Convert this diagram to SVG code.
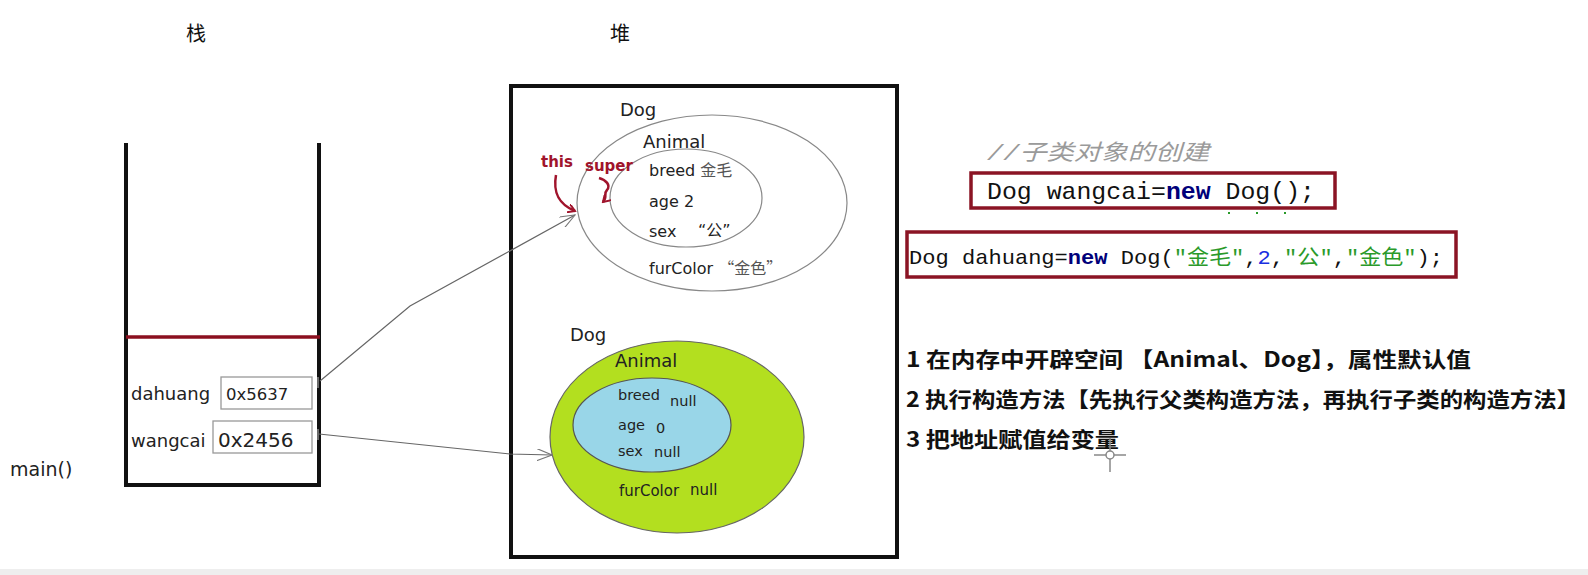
<svg xmlns="http://www.w3.org/2000/svg" width="1588" height="575" viewBox="0 0 1588 575">
<style>
.t{font-family:"DejaVu Sans","Noto Sans CJK SC",sans-serif;fill:#222}
.cjk{font-family:"Noto Sans CJK SC",sans-serif;fill:#111}
.step{font-family:"Noto Sans CJK SC",sans-serif;font-weight:bold;font-size:21px;fill:#111}
.code{font-family:"Liberation Mono","Noto Sans CJK SC",monospace;fill:#111}
.kw{font-weight:bold;fill:#00007a}
.str{fill:#2a9a2a}
.num{fill:#1a2ee0}
.red{font-family:"DejaVu Sans",sans-serif;font-weight:bold;font-size:15px;fill:#a0142c}
.conn{fill:none;stroke:#666;stroke-width:1.2}
.wall{fill:none;stroke:#111;stroke-width:4}
.box{fill:#fff;stroke:#999;stroke-width:1.3}
.hl{fill:none;stroke:#8b1424;stroke-width:3.5}
</style>
<defs>
<marker id="open" viewBox="0 0 16 12" refX="15" refY="6" markerWidth="16" markerHeight="12" markerUnits="userSpaceOnUse" orient="auto">
<path d="M0,0 L15,6 L0,12" fill="none" stroke="#777" stroke-width="1.1"/>
</marker>
<marker id="redhead" viewBox="0 0 10 10" refX="8" refY="5" markerWidth="9" markerHeight="9" markerUnits="userSpaceOnUse" orient="auto">
<path d="M0,0 L8,5 L0,10" fill="none" stroke="#a0142c" stroke-width="2.2"/>
</marker>
</defs>
<rect width="1588" height="575" fill="#fff"/>
<rect x="0" y="569" width="1588" height="6" fill="#eeeeee"/>

<text class="cjk" x="196" y="41" font-size="20" text-anchor="middle">栈</text>
<text class="cjk" x="620" y="41" font-size="20" text-anchor="middle">堆</text>

<g id="stack">
<polyline class="wall" points="126,143 126,485 319,485 319,143"/>
<line x1="126" y1="337" x2="320" y2="337" stroke="#8b0f1f" stroke-width="3.5"/>
<text class="t" x="131" y="400" font-size="18">dahuang</text>
<rect class="box" x="221" y="377" width="91" height="32"/>
<text class="t" x="226" y="400" font-size="16.5" fill="#333">0x5637</text>
<text class="t" x="131" y="447" font-size="18">wangcai</text>
<rect class="box" x="213" y="421" width="99" height="32"/>
<text class="t" x="218" y="447" font-size="20">0x2456</text>
<text class="t" x="10" y="476" font-size="19">main()</text>
</g>

<g id="heap">
<rect x="511" y="86" width="386" height="471" fill="none" stroke="#111" stroke-width="4"/>
</g>

<g id="dog-dahuang">
<text class="t" x="620" y="116" font-size="18">Dog</text>
<ellipse cx="712" cy="203" rx="135" ry="88" fill="none" stroke="#888" stroke-width="1.2"/>
<ellipse cx="686" cy="198" rx="76" ry="49" fill="none" stroke="#888" stroke-width="1.2"/>
<text class="t" x="643" y="148" font-size="18">Animal</text>
<text class="t" x="649" y="176" font-size="16">breed <tspan font-family="Noto Sans CJK SC" fill="#555">金毛</tspan></text>
<text class="t" x="649" y="207" font-size="16">age 2</text>
<text class="t" x="649" y="237" font-size="16">sex</text>
<text class="t" x="698" y="236" font-size="16" fill="#555" font-family="Noto Sans CJK SC">“公”</text>
<text class="t" x="649" y="274" font-size="16">furColor <tspan font-family="Noto Sans CJK SC" fill="#555">“金色”</tspan></text>
<text class="red" x="541" y="167">this</text>
<text class="red" x="585" y="171">super</text>
<path d="M556,175 C553,192 558,204 575,211" fill="none" stroke="#a0142c" stroke-width="2.5" marker-end="url(#redhead)"/>
<path d="M599,178 C606,180 611,185 607,190 C603,194 608,197 603,202" fill="none" stroke="#a0142c" stroke-width="2.5" marker-end="url(#redhead)"/>
</g>

<g id="dog-wangcai">
<text class="t" x="570" y="341" font-size="18">Dog</text>
<ellipse cx="677" cy="437" rx="127" ry="96" fill="#b3df1f" stroke="#666" stroke-width="1.2"/>
<text class="t" x="615" y="367" font-size="18">Animal</text>
<ellipse cx="652" cy="425" rx="79" ry="47" fill="#99d6e8" stroke="#555" stroke-width="1.2"/>
<text class="t" x="618" y="400" font-size="14.5">breed</text>
<text class="t" x="670" y="406" font-size="14.5">null</text>
<text class="t" x="618" y="430" font-size="14.5">age</text>
<text class="t" x="656" y="433" font-size="14.5">0</text>
<text class="t" x="618" y="456" font-size="14.5">sex</text>
<text class="t" x="654" y="457" font-size="14.5">null</text>
<text class="t" x="619" y="496" font-size="15">furColor</text>
<text class="t" x="690" y="495" font-size="15">null</text>
</g>

<g id="connectors">
<path class="conn" d="M320,381 L410,306 L575,215" marker-end="url(#open)"/>
<path class="conn" d="M319,434 L510,454 L552,455" marker-end="url(#open)"/>
<line x1="318" y1="377" x2="318" y2="388" stroke="#888" stroke-width="1.5"/>
<line x1="318" y1="429" x2="318" y2="440" stroke="#888" stroke-width="1.5"/>
</g>

<g id="code">
<text x="987" y="160" font-family="Liberation Mono, Noto Sans CJK SC, monospace" font-style="italic" font-size="22" fill="#9a9a9a" textLength="222" lengthAdjust="spacingAndGlyphs">//子类对象的创建</text>
<rect class="hl" x="971" y="173" width="364" height="35"/>
<text class="code" x="987" y="199" font-size="24" textLength="328" lengthAdjust="spacingAndGlyphs">Dog wangcai=<tspan class="kw">new</tspan> Dog();</text>
<line x1="1228" y1="213" x2="1286" y2="213" stroke="#2a9a2a" stroke-width="2" stroke-dasharray="2 26"/>
<rect class="hl" x="907" y="232" width="549" height="45"/>
<text class="code" x="909" y="264" font-size="21" textLength="534" lengthAdjust="spacingAndGlyphs">Dog dahuang=<tspan class="kw">new</tspan> Dog(<tspan class="str">"金毛"</tspan>,<tspan class="num">2</tspan>,<tspan class="str">"公"</tspan>,<tspan class="str">"金色"</tspan>);</text>
</g>

<g id="steps">
<text class="step" x="906" y="367" textLength="565" lengthAdjust="spacingAndGlyphs">1 在内存中开辟空间 【Animal、Dog】，属性默认值</text>
<text class="step" x="906" y="407" textLength="674" lengthAdjust="spacingAndGlyphs">2 执行构造方法【先执行父类构造方法，再执行子类的构造方法】</text>
<text class="step" x="906" y="447" textLength="213" lengthAdjust="spacingAndGlyphs">3 把地址赋值给变量</text>
</g>

<g id="cursor" stroke="#888" stroke-width="1.5" fill="none">
<line x1="1110" y1="438" x2="1110" y2="472"/>
<line x1="1094" y1="455" x2="1126" y2="455"/>
<circle cx="1110" cy="455" r="4" fill="#fff"/>
</g>
</svg>
